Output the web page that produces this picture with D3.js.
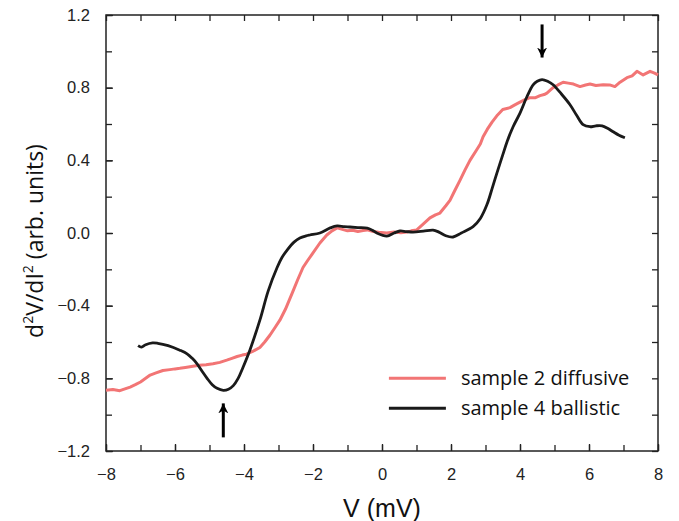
<!DOCTYPE html>
<html>
<head>
<meta charset="utf-8">
<script src="https://cdn.jsdelivr.net/npm/d3@7"></script>
<style>
  body { margin: 0; background: #fff; }
  text { font-family: "Liberation Sans", Arial, sans-serif; }
</style>
</head>
<body>
<div id="chart"></div>
<script>
// Data
const diffV = [-8.0,-7.8,-7.6,-7.45,-7.3,-7.15,-7.0,-6.85,-6.72,-6.55,-6.35,-6.15,-6.0,-5.86,-5.7,-5.48,-5.3,-5.1,-4.9,-4.7,-4.5,-4.35,-4.2,-4.05,-3.93,-3.75,-3.54,-3.4,-3.25,-3.1,-2.96,-2.8,-2.6,-2.45,-2.29,-2.15,-2.0,-1.8,-1.6,-1.45,-1.3,-1.15,-1.0,-0.85,-0.7,-0.55,-0.43,-0.25,-0.1,0.14,0.35,0.55,0.72,0.85,1.0,1.2,1.39,1.55,1.68,1.85,1.97,2.1,2.26,2.4,2.55,2.75,2.85,2.93,3.05,3.19,3.35,3.5,3.71,3.85,4.0,4.15,4.29,4.45,4.58,4.7,4.78,4.9,4.96,5.1,5.25,5.4,5.55,5.74,5.9,6.03,6.2,6.41,6.6,6.75,6.9,7.1,7.25,7.39,7.57,7.77,7.9,8.0];
const diffY = [-0.866,-0.862,-0.868,-0.858,-0.848,-0.835,-0.82,-0.80,-0.782,-0.77,-0.757,-0.752,-0.748,-0.745,-0.74,-0.733,-0.728,-0.725,-0.72,-0.712,-0.70,-0.69,-0.68,-0.672,-0.667,-0.652,-0.63,-0.60,-0.563,-0.52,-0.48,-0.42,-0.33,-0.26,-0.19,-0.15,-0.11,-0.055,-0.011,0.012,0.028,0.02,0.012,0.015,0.008,0.014,0.017,0.008,0.004,0.0,0.006,0.002,0.005,0.012,0.016,0.05,0.083,0.1,0.11,0.15,0.18,0.23,0.29,0.345,0.40,0.46,0.49,0.53,0.57,0.61,0.65,0.68,0.69,0.705,0.72,0.735,0.745,0.745,0.756,0.762,0.77,0.79,0.80,0.815,0.83,0.825,0.82,0.806,0.815,0.82,0.812,0.816,0.815,0.806,0.83,0.855,0.865,0.89,0.87,0.89,0.88,0.87];

const ballV = [-7.07,-6.97,-6.85,-6.65,-6.5,-6.2,-5.86,-5.65,-5.5,-5.36,-5.2,-5.07,-4.92,-4.78,-4.6,-4.45,-4.31,-4.17,-4.03,-3.83,-3.54,-3.3,-3.04,-2.9,-2.75,-2.55,-2.38,-2.2,-2.09,-1.8,-1.5,-1.3,-1.1,-0.93,-0.7,-0.43,-0.28,-0.15,0.14,0.35,0.52,0.7,0.9,1.2,1.48,1.65,1.85,2.06,2.3,2.64,2.85,3.04,3.2,3.33,3.5,3.62,3.8,4.0,4.2,4.38,4.5,4.64,4.8,4.96,5.2,5.45,5.65,5.83,6.03,6.2,6.38,6.55,6.70,6.87,7.04];
const ballY = [-0.62,-0.628,-0.615,-0.605,-0.607,-0.62,-0.645,-0.665,-0.69,-0.72,-0.765,-0.80,-0.835,-0.855,-0.866,-0.86,-0.84,-0.80,-0.74,-0.645,-0.48,-0.32,-0.19,-0.135,-0.094,-0.05,-0.028,-0.016,-0.011,0.0,0.028,0.039,0.035,0.033,0.03,0.027,0.015,0.0,-0.017,0.0,0.011,0.008,0.005,0.01,0.016,0.005,-0.015,-0.022,0.0,0.035,0.08,0.155,0.25,0.33,0.43,0.5,0.585,0.66,0.75,0.816,0.835,0.844,0.835,0.816,0.765,0.706,0.645,0.596,0.585,0.59,0.59,0.575,0.557,0.538,0.524];

// arrows: [x, tail y, head y]
const arrows = [[4.64, 1.148, 0.966], [-4.6, -1.125, -0.938]];

const xTicks = [-8,-6,-4,-2,0,2,4,6,8];
const yTicks = [-1.2,-0.8,-0.4,0.0,0.4,0.8,1.2];
const seriesNames = ["sample 2 diffusive", "sample 4 ballistic"];
const seriesColors = ["#f27575", "#1a1a1a"];

const margin = {top: 15, right: 21, bottom: 70, left: 106},
    width = 679 - margin.left - margin.right,
    height = 521 - margin.top - margin.bottom;

const svg = d3.select("#chart")
  .append("svg")
    .attr("width", width + margin.left + margin.right)
    .attr("height", height + margin.top + margin.bottom)
  .append("g")
    .attr("transform", `translate(${margin.left},${margin.top})`);

const x = d3.scaleLinear().domain([-8, 8]).range([0, width]);
const y = d3.scaleLinear().domain([-1.2, 1.2]).range([height, 0]);

// axes with inward ticks, minor ticks in between
function styleAxis(g) {
  g.select(".domain").remove();
  g.selectAll("line").attr("stroke", "#222").attr("stroke-width", 1.3);
  g.selectAll("text").attr("fill", "#222").style("font-size", "16.5px");
}
const xMinor = d3.range(-8, 8.01, 1);
const yMinor = d3.range(-1.2, 1.21, 0.2);

svg.append("g").attr("transform", `translate(0,${height})`)
  .call(d3.axisBottom(x).tickValues(xMinor).tickSize(-6).tickFormat(""))
  .call(styleAxis);
svg.append("g").attr("transform", `translate(0,${height})`)
  .call(d3.axisBottom(x).tickValues(xTicks).tickSize(-7).tickPadding(17).tickFormat(d3.format("d")))
  .call(styleAxis);
svg.append("g")
  .call(d3.axisTop(x).tickValues(xMinor).tickSize(-6).tickFormat(""))
  .call(styleAxis);

svg.append("g")
  .call(d3.axisLeft(y).tickValues(yMinor).tickSize(-6).tickFormat(""))
  .call(styleAxis);
svg.append("g")
  .call(d3.axisLeft(y).tickValues(yTicks).tickSize(-7).tickPadding(16).tickFormat(d3.format(".1f")))
  .call(styleAxis);
svg.append("g").attr("transform", `translate(${width},0)`)
  .call(d3.axisRight(y).tickValues(yMinor).tickSize(-6).tickFormat(""))
  .call(styleAxis);

// frame
svg.append("rect")
  .attr("width", width).attr("height", height)
  .attr("fill", "none").attr("stroke", "#222").attr("stroke-width", 1.5);

// curves
const diffData = diffV.map((v, i) => [v, diffY[i]]);
const ballData = ballV.map((v, i) => [v, ballY[i]]);

svg.append("path")
  .datum(diffData)
  .attr("fill", "none")
  .attr("stroke", seriesColors[0])
  .attr("stroke-width", 3)
  .attr("stroke-linejoin", "round")
  .attr("d", d3.line().x(d => x(d[0])).y(d => y(d[1])));

svg.append("path")
  .datum(ballData)
  .attr("fill", "none")
  .attr("stroke", seriesColors[1])
  .attr("stroke-width", 2.8)
  .attr("stroke-linejoin", "round")
  .attr("d", d3.line().curve(d3.curveCatmullRom).x(d => x(d[0])).y(d => y(d[1])));

// arrows
svg.append("defs").append("marker")
  .attr("id", "head")
  .attr("viewBox", "0 0 10 10")
  .attr("refX", 10).attr("refY", 5)
  .attr("markerWidth", 10).attr("markerHeight", 10)
  .attr("markerUnits", "userSpaceOnUse")
  .attr("orient", "auto")
  .append("path")
    .attr("d", "M0,0 L10,5 L0,10 L3,5 Z")
    .attr("fill", "#000");

svg.selectAll(".arrow")
  .data(arrows)
  .join("line")
    .attr("x1", d => x(d[0])).attr("x2", d => x(d[0]))
    .attr("y1", d => y(d[1])).attr("y2", d => y(d[2]))
    .attr("stroke", "#000")
    .attr("stroke-width", 3)
    .attr("marker-end", "url(#head)");

// legend
const legend = svg.append("g").attr("transform", `translate(${x(0.2)},${y(-0.8)})`);
seriesNames.forEach((name, i) => {
  const row = legend.append("g").attr("transform", `translate(0,${i * 30})`);
  row.append("line")
    .attr("x1", 0).attr("x2", 57)
    .attr("stroke", seriesColors[i]).attr("stroke-width", 3);
  row.append("text")
    .attr("x", 72).attr("y", 7)
    .style("font-family", "'Open Sans', Lato, sans-serif")
    .style("font-size", "20px")
    .attr("fill", "#111")
    .text(name);
});

// axis labels
svg.append("text")
  .attr("text-anchor", "middle")
  .attr("x", width / 2)
  .attr("y", height + 66)
  .style("font-size", "25px")
  .attr("fill", "#111")
  .text("V (mV)");

const yl = svg.append("text")
  .attr("text-anchor", "middle")
  .attr("transform", `translate(${-margin.left + 43},${226}) rotate(-90)`)
  .style("font-family", "'Open Sans', sans-serif")
  .style("font-size", "23px")
  .attr("fill", "#111");
yl.append("tspan").text("d");
yl.append("tspan").attr("dy", -10).style("font-size", "14px").text("2");
yl.append("tspan").attr("dy", 10).text("V/dI");
yl.append("tspan").attr("dy", -10).style("font-size", "14px").text("2");
yl.append("tspan").attr("dy", 10).text(" (arb. units)");
</script>
</body>
</html>
